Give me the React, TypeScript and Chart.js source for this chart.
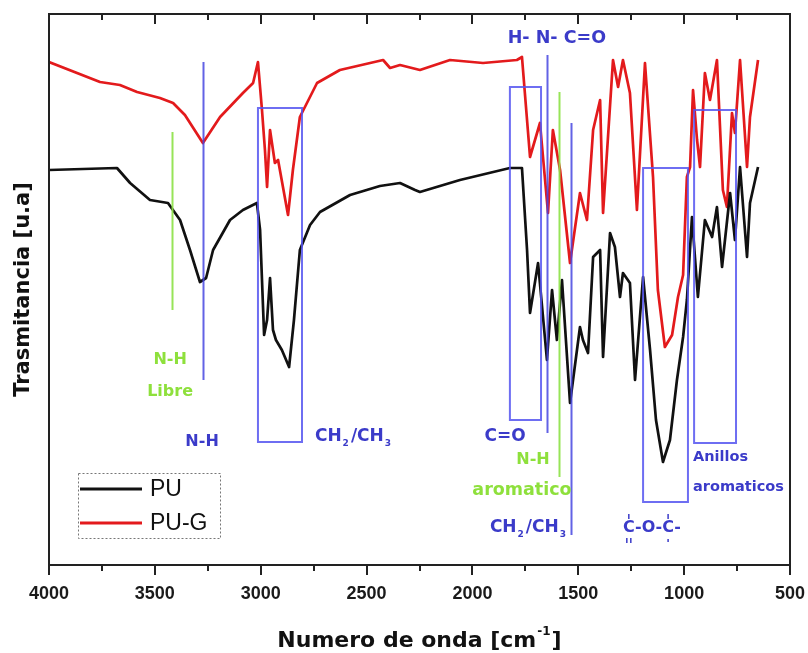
import { useEffect, useRef } from "react";
import { Chart, registerables } from "chart.js";

Chart.register(...registerables);

// ---------- data (wavenumber cm^-1, transmittance in arbitrary units) ----------
const wavenumberPU = [
  4000, 3679, 3617, 3523, 3438, 3381, 3334, 3287, 3258, 3225, 3145, 3084, 3018, 3003, 2984,
  2970, 2956, 2942, 2928, 2900, 2866, 2843, 2815, 2767, 2720, 2578, 2437, 2342, 2271, 2248,
  2059, 1823, 1766, 1742, 1728, 1690, 1648, 1624, 1601, 1577, 1539, 1492, 1478, 1454, 1430,
  1397, 1383, 1350, 1327, 1303, 1289, 1256, 1232, 1194, 1161, 1133, 1100, 1067, 1034, 1005,
  987, 963, 935, 902, 868, 845, 821, 783, 760, 736, 703, 689, 651,
];
const transPU = [
  395, 397, 382, 365, 362, 345, 315, 283, 287, 315, 345, 355, 362, 335, 230,
  245, 287, 235, 225, 215, 198, 245, 315, 340, 353, 370, 379, 382, 375, 373,
  385, 397, 397, 315, 252, 302, 205, 275, 225, 285, 162, 238, 225, 212, 308,
  315, 208, 332, 318, 268, 292, 282, 185, 288, 215, 145, 103, 125, 185, 228,
  265, 348, 268, 345, 328, 358, 298, 372, 325, 398, 308, 362, 398,
];

const wavenumberPUG = [
  4000, 3759, 3665, 3584, 3476, 3414, 3358, 3273, 3192, 3084, 3036, 3013, 2994, 2980, 2970,
  2956, 2933, 2918, 2871, 2848, 2815, 2734, 2626, 2422, 2389, 2342, 2248, 2106, 1950, 1790,
  1766, 1728, 1681, 1643, 1620, 1586, 1539, 1492, 1459, 1430, 1397, 1383, 1336, 1312, 1289,
  1256, 1223, 1185, 1147, 1124, 1091, 1057, 1029, 1005, 987, 972, 958, 939, 925, 902,
  878, 845, 817, 798, 774, 760, 736, 703, 689, 651,
];
const transPUG = [
  503, 483, 480, 473, 467, 462, 450, 422, 448, 472, 482, 503, 455, 415, 378,
  435, 402, 405, 350, 395, 448, 482, 495, 505, 497, 500, 495, 505, 502, 505,
  508, 408, 442, 352, 435, 395, 302, 372, 345, 435, 465, 352, 505, 478, 505,
  472, 355, 502, 388, 275, 218, 230, 268, 290, 388, 398, 475, 425, 398, 492,
  465, 505, 375, 358, 452, 432, 505, 398, 448, 505,
];

const xTickValues = [4000, 3500, 3000, 2500, 2000, 1500, 1000, 500];
const seriesNames = ["PU", "PU-G"];

// ---------- annotations (in data coordinates) ----------
const BLUE = "rgba(70,70,225,0.85)";
const BLUE_BOX = "rgba(85,85,240,0.85)";
const GREEN = "rgba(140,225,70,0.9)";
const BLUE_TEXT = "#3b3bc9";
const GREEN_TEXT = "#8ee03c";

const vLines = [
  { x: 3420, y1: 255, y2: 433, color: GREEN },
  { x: 3272, y1: 185, y2: 503, color: BLUE },
  { x: 1648, y1: 132, y2: 510, color: BLUE },
  { x: 1591, y1: 88, y2: 473, color: GREEN },
  { x: 1536, y1: 30, y2: 442, color: BLUE },
];

const boxes = [
  { x1: 3013, x2: 2805, y1: 123, y2: 457 },
  { x1: 1823, x2: 1676, y1: 145, y2: 478 },
  { x1: 1194, x2: 982, y1: 63, y2: 397 },
  { x1: 953, x2: 755, y1: 122, y2: 455 },
];

const labels = [
  { text: "N-H", x: 3428, y: 205, color: GREEN_TEXT, align: "center", size: 16 },
  { text: "Libre", x: 3428, y: 173, color: GREEN_TEXT, align: "center", size: 16 },
  { text: "N-H", x: 3277, y: 123, color: BLUE_TEXT, align: "center", size: 16 },
  { text: "CH_2/CH_3", x: 2744, y: 128, color: BLUE_TEXT, align: "left", size: 17 },
  { text: "H- N- C=O", x: 1601, y: 527, color: BLUE_TEXT, align: "center", size: 17.5 },
  { text: "C=O", x: 1846, y: 128, color: BLUE_TEXT, align: "center", size: 17 },
  { text: "N-H", x: 1714, y: 105, color: GREEN_TEXT, align: "center", size: 16 },
  { text: "aromatico", x: 1766, y: 75, color: GREEN_TEXT, align: "center", size: 17.5 },
  { text: "CH_2/CH_3", x: 1733, y: 37, color: BLUE_TEXT, align: "center", size: 17 },
  { text: "C-O-C-", x: 1152, y: 37, color: BLUE_TEXT, align: "center", size: 16, ester: true },
  { text: "Anillos", x: 958, y: 108, color: BLUE_TEXT, align: "left", size: 14.5 },
  { text: "aromaticos", x: 958, y: 78, color: BLUE_TEXT, align: "left", size: 14.5 },
];

const TICK_FONT = "bold 18px 'Liberation Sans', Arial, sans-serif";
const labelFont = (size: number) => `bold ${size}px 'DejaVu Sans', sans-serif`;

function parseRich(text: string) {
  const segs: { t: string; sub: boolean }[] = [];
  let buf = "";
  for (let i = 0; i < text.length; i++) {
    if (text[i] === "_" && i + 1 < text.length) {
      if (buf) segs.push({ t: buf, sub: false });
      buf = "";
      segs.push({ t: text[i + 1], sub: true });
      i++;
    } else buf += text[i];
  }
  if (buf) segs.push({ t: buf, sub: false });
  return segs;
}

function drawRich(ctx: CanvasRenderingContext2D, text: string, x: number, y: number, align: string, size: number) {
  const segs = parseRich(text);
  const main = labelFont(size);
  const sub = labelFont(Math.round(size * 0.55));
  let total = 0;
  const widths = segs.map((s) => {
    ctx.font = s.sub ? sub : main;
    const w = ctx.measureText(s.t).width + (s.sub ? 3 : 0);
    total += w;
    return w;
  });
  let cx = align === "center" ? x - total / 2 : x;
  ctx.textAlign = "left";
  ctx.textBaseline = "middle";
  segs.forEach((s, i) => {
    ctx.font = s.sub ? sub : main;
    ctx.fillText(s.t, s.sub ? cx + 1 : cx, s.sub ? y + size * 0.4 : y);
    cx += widths[i];
  });
  return { left: align === "center" ? x - total / 2 : x, width: total };
}

const ftirPlugin = {
  id: "ftirDecor",
  afterDatasetsDraw(chart: any) {
    const { ctx, scales } = chart;
    const xs = scales.x;
    const ys = scales.y;
    ctx.save();
    ctx.lineWidth = 2;
    for (const b of boxes) {
      const x1 = xs.getPixelForValue(b.x1);
      const x2 = xs.getPixelForValue(b.x2);
      const y1 = ys.getPixelForValue(b.y1);
      const y2 = ys.getPixelForValue(b.y2);
      ctx.strokeStyle = BLUE_BOX;
      ctx.strokeRect(Math.min(x1, x2), Math.min(y1, y2), Math.abs(x2 - x1), Math.abs(y2 - y1));
    }
    for (const l of vLines) {
      const px = Math.round(xs.getPixelForValue(l.x)) + 0.5;
      ctx.strokeStyle = l.color;
      ctx.lineWidth = 2;
      ctx.beginPath();
      ctx.moveTo(px, ys.getPixelForValue(l.y1));
      ctx.lineTo(px, ys.getPixelForValue(l.y2));
      ctx.stroke();
    }
    for (const lb of labels) {
      const px = xs.getPixelForValue(lb.x);
      const py = ys.getPixelForValue(lb.y);
      ctx.fillStyle = lb.color;
      const r = drawRich(ctx, lb.text, px, py, lb.align, lb.size);
      if ((lb as any).ester) {
        ctx.font = labelFont(lb.size);
        const cW = ctx.measureText("C").width;
        const before = ctx.measureText("C-O-").width;
        ctx.strokeStyle = lb.color;
        ctx.lineWidth = 1.5;
        const marks = [r.left + cW / 2, r.left + before + cW / 2];
        marks.forEach((mx, i) => {
          ctx.beginPath();
          ctx.moveTo(mx, py - 14);
          ctx.lineTo(mx, py - 9);
          ctx.stroke();
          ctx.beginPath();
          if (i === 0) {
            ctx.moveTo(mx - 2, py + 10);
            ctx.lineTo(mx - 2, py + 15);
            ctx.moveTo(mx + 2, py + 10);
            ctx.lineTo(mx + 2, py + 15);
          } else {
            ctx.moveTo(mx, py + 11);
            ctx.lineTo(mx, py + 14);
          }
          ctx.stroke();
        });
      }
    }
    ctx.restore();
  },
  afterDraw(chart: any) {
    const { ctx, chartArea, scales } = chart;
    const xs = scales.x;
    const { left, right, top, bottom } = chartArea;
    ctx.save();
    // frame
    ctx.strokeStyle = "#222";
    ctx.lineWidth = 2;
    ctx.strokeRect(left, top, right - left, bottom - top);
    // ticks: major every 500, minor every 250
    for (let v = 500; v <= 4000; v += 250) {
      const px = Math.round(xs.getPixelForValue(v));
      const major = v % 500 === 0;
      ctx.beginPath();
      ctx.moveTo(px, bottom);
      ctx.lineTo(px, bottom + (major ? 10 : 6));
      ctx.moveTo(px, top);
      ctx.lineTo(px, top + (major ? 10 : 6));
      ctx.stroke();
    }
    // tick labels
    ctx.fillStyle = "#1a1a1a";
    ctx.font = TICK_FONT;
    ctx.textAlign = "center";
    ctx.textBaseline = "middle";
    for (const v of xTickValues) {
      ctx.fillText(String(v), xs.getPixelForValue(v), bottom + 29);
    }
    // axis titles
    ctx.fillStyle = "#111";
    ctx.textBaseline = "alphabetic";
    const tFont = "bold 22px 'DejaVu Sans', sans-serif";
    const sFont = "bold 12px 'DejaVu Sans', sans-serif";
    const part1 = "Numero de onda [cm";
    const sup = "-1";
    const part2 = "]";
    ctx.font = tFont;
    const w1 = ctx.measureText(part1).width;
    const w3 = ctx.measureText(part2).width;
    ctx.font = sFont;
    const w2 = ctx.measureText(sup).width + 2;
    const sx = (left + right) / 2 - (w1 + w2 + w3) / 2;
    const by = 647;
    ctx.textAlign = "left";
    ctx.font = tFont;
    ctx.fillText(part1, sx, by);
    ctx.font = sFont;
    ctx.fillText(sup, sx + w1 + 1, by - 12);
    ctx.font = tFont;
    ctx.fillText(part2, sx + w1 + w2, by);

    ctx.save();
    ctx.translate(29, (top + bottom) / 2);
    ctx.rotate(-Math.PI / 2);
    ctx.textAlign = "center";
    ctx.font = "bold 21px 'DejaVu Sans', sans-serif";
    ctx.fillText("Trasmitancia [u.a]", 0, 0);
    ctx.restore();

    // legend
    const lx = left + 29;
    const ly = bottom - 92;
    ctx.setLineDash([2, 2]);
    ctx.strokeStyle = "#777";
    ctx.lineWidth = 1;
    ctx.strokeRect(lx + 0.5, ly + 0.5, 142, 65);
    ctx.setLineDash([]);
    const colors = ["#111111", "#e31a1c"];
    seriesNames.forEach((name, i) => {
      const yy = ly + 16 + i * 34;
      ctx.strokeStyle = colors[i];
      ctx.lineWidth = 3;
      ctx.beginPath();
      ctx.moveTo(lx + 2, yy);
      ctx.lineTo(lx + 64, yy);
      ctx.stroke();
      ctx.fillStyle = "#111";
      ctx.font = "23px 'Liberation Sans', Arial, sans-serif";
      ctx.textAlign = "left";
      ctx.textBaseline = "middle";
      ctx.fillText(name, lx + 72, yy + 1);
    });
    ctx.restore();
  },
};

export default function App() {
  const ref = useRef<HTMLCanvasElement | null>(null);
  useEffect(() => {
    document.body.style.margin = "0";
    const canvas = ref.current;
    if (!canvas) return;
    const chart = new Chart(canvas, {
      type: "line",
      data: {
        datasets: [
          {
            label: seriesNames[0],
            data: wavenumberPU.map((x, i) => ({ x, y: transPU[i] })),
            borderColor: "#111111",
            borderWidth: 2.7,
            pointRadius: 0,
            tension: 0,
            borderJoinStyle: "round",
          },
          {
            label: seriesNames[1],
            data: wavenumberPUG.map((x, i) => ({ x, y: transPUG[i] })),
            borderColor: "#e31a1c",
            borderWidth: 2.7,
            pointRadius: 0,
            tension: 0,
            borderJoinStyle: "round",
          },
        ],
      },
      options: {
        animation: false,
        responsive: false,
        devicePixelRatio: 1,
        layout: { padding: { left: 49, right: 18, top: 14, bottom: 0 } },
        plugins: { legend: { display: false }, tooltip: { enabled: false } },
        scales: {
          x: {
            type: "linear",
            reverse: true,
            min: 500,
            max: 4000,
            afterFit: (scale: any) => {
              scale.height = 88;
            },
            grid: { display: false, drawTicks: false, tickLength: 0 },
            border: { display: false },
            ticks: { display: false, stepSize: 500 },
          },
          y: {
            display: false,
            min: 0,
            max: 551,
          },
        },
      },
      plugins: [ftirPlugin],
    } as any);
    return () => chart.destroy();
  }, []);
  return <canvas ref={ref} width={808} height={653} style={{ display: "block", width: 808, height: 653 }} />;
}
